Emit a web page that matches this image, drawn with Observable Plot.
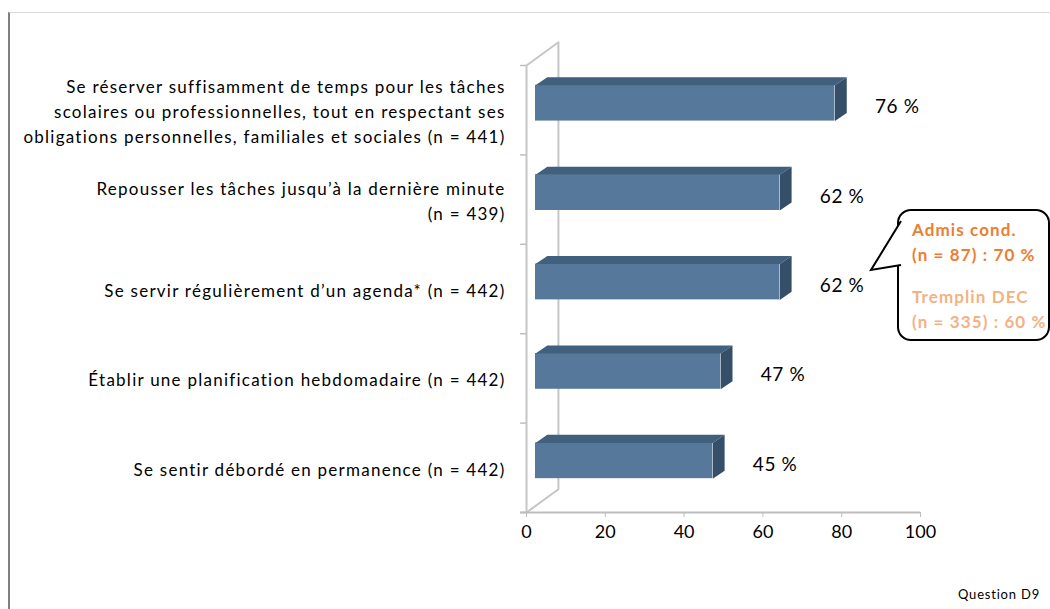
<!DOCTYPE html>
<html>
<head>
<meta charset="utf-8">
<script src="https://cdn.jsdelivr.net/npm/d3@7"></script>
<script src="https://cdn.jsdelivr.net/npm/@observablehq/plot@0.6"></script>
<style>
  html, body { margin: 0; padding: 0; background: #fff; }
  #wrap { position: relative; width: 1050px; height: 609px; overflow: hidden; font-family: Lato, "Open Sans", sans-serif; }
  #frame { position: absolute; left: 8px; top: 12px; width: 1042px; height: 597px; border-left: 2px solid #7f7f7f; border-top: 1px solid #d9d9d9; box-sizing: border-box; }
  #chart { position: absolute; left: 0; top: 0; }
  #callout { position: absolute; left: 897px; top: 209px; width: 153px; height: 132px; box-sizing: border-box;
             border: 2px solid #000; border-radius: 14px; background: #fff; padding: 6px 0 0 13px;
             font-family: Lato, sans-serif; font-weight: bold; font-size: 17px; letter-spacing: 1.1px; line-height: 25px; white-space: nowrap; }
  #callout .a { color: #ed7d31; }
  #callout .b { color: #f4b183; margin-top: 17px; }
  #pointer { position: absolute; left: 0; top: 0; pointer-events: none; }
  #caption { position: absolute; right: 10px; top: 586px; font-size: 13px; letter-spacing: 0.8px; font-family: Lato, sans-serif; color: #000; }
</style>
</head>
<body>
<div id="wrap">
  <div id="frame"></div>
  <div id="chart"></div>
  <div id="callout">
    <div class="a">Admis cond.<br>(n = 87) : 70 %</div>
    <div class="b">Tremplin DEC<br>(n = 335) : 60 %</div>
  </div>
  <svg id="pointer" width="1050" height="609"><path d="M 901 221 L 871 270 L 901 265" fill="#fff" stroke="#000" stroke-width="2" stroke-linejoin="miter"/></svg>
  <div id="caption">Question D9</div>
</div>
<script>
// ---- data ----
const categories = [
  "Se réserver suffisamment de temps pour les tâches\nscolaires ou professionnelles, tout en respectant ses\nobligations personnelles, familiales et sociales (n = 441)",
  "Repousser les tâches jusqu’à la dernière minute\n(n = 439)",
  "Se servir régulièrement d’un agenda* (n = 442)",
  "Établir une planification hebdomadaire (n = 442)",
  "Se sentir débordé en permanence (n = 442)"
];
const values = [76, 62, 62, 47, 45];
const xTicks = [0, 20, 40, 60, 80, 100];

// ---- derived ----
const rows = categories.map((label, i) => ({id: i, label, value: values[i], pos: i + 0.5}));
const half = 0.2;          // bar half-thickness (category units)
const bx = 3.0, by = 0.09; // bar depth (x units, category units)
const wx = 8.1, wy = 0.26; // wall depth
const n = categories.length;

const topFaces = rows.flatMap(d => {
  const t = d.pos - half;
  return [[0, t], [d.value, t], [d.value + bx, t - by], [bx, t - by], [0, t]].map(([x, y]) => ({id: d.id, x, y}));
});
const sideFaces = rows.flatMap(d => {
  const t = d.pos - half, b = d.pos + half;
  return [[d.value, t], [d.value, b], [d.value + bx, b - by], [d.value + bx, t - by], [d.value, t]].map(([x, y]) => ({id: d.id, x, y}));
});
const wall = [[0, 0], [wx, -wy], [wx, n - wy], [0, n]].map(([x, y]) => ({x, y}));

const chart = Plot.plot({
  width: 1050,
  height: 609,
  marginLeft: 526,
  marginRight: 130,
  marginTop: 65,
  marginBottom: 97,
  style: {fontFamily: "Lato, sans-serif", background: "transparent", overflow: "visible"},
  x: {domain: [0, 100], axis: null},
  y: {domain: [0, n], reverse: true, axis: null},
  marks: [
    Plot.line(wall, {x: "x", y: "y", stroke: "#c6c6c6", strokeWidth: 2}),
    Plot.ruleX([0], {y1: 0, y2: n, stroke: "#c6c6c6", strokeWidth: 2}),
    Plot.ruleY(d3.range(n + 1), {x1: -1.5, x2: 0, stroke: "#bdbdbd", strokeWidth: 1.5}),
    Plot.ruleY([n], {x1: -1.5, x2: 100, stroke: "#bdbdbd", strokeWidth: 2}),
    Plot.axisX({ticks: xTicks, tickSize: 5, tickPadding: 8, stroke: "#bdbdbd", fontSize: 18, fill: "#000"}),
    Plot.rectX(rows, {x1: 0, x2: "value", y1: d => d.pos - half, y2: d => d.pos + half, fill: "#56799b", dx: 9, dy: -7}),
    Plot.line(topFaces, {x: "x", y: "y", z: "id", fill: "#41607e", stroke: "none", dx: 9, dy: -7}),
    Plot.line(sideFaces, {x: "x", y: "y", z: "id", fill: "#364f68", stroke: "none", dx: 9, dy: -7}),
    Plot.text(rows, {x: "value", y: "pos", text: d => `${d.value} %`, dx: 49, dy: -3, textAnchor: "start", fontSize: 19, fill: "#000"}),
    Plot.text(rows, {x: 0, y: "pos", text: "label", textAnchor: "end", dx: -21, fontSize: 17, lineHeight: 1.47, fill: "#000"})
  ]
});
document.getElementById("chart").appendChild(chart);
// letter spacing to mimic the wide rendering of the original font
const textGroups = chart.querySelectorAll('g[aria-label="text"]');
if (textGroups.length >= 2) {
  textGroups[textGroups.length - 2].style.letterSpacing = "0.6px";
  textGroups[textGroups.length - 1].style.letterSpacing = "1.25px";
}
</script>
</body>
</html>
